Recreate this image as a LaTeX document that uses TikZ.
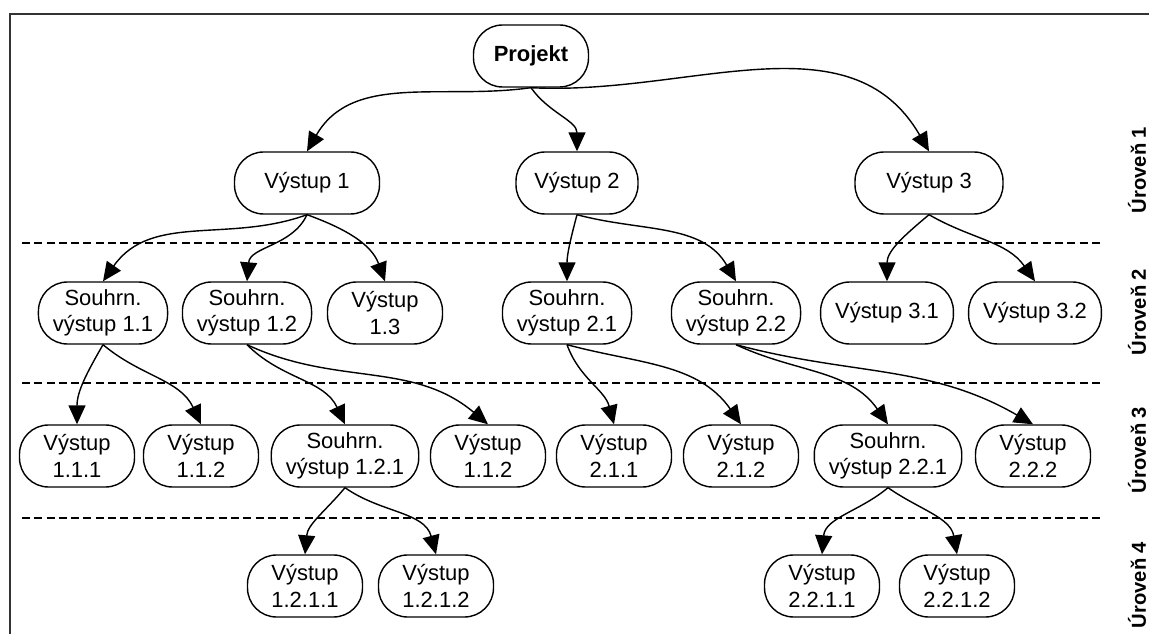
\documentclass[tikz,border=0pt]{standalone}
\usepackage{fontspec}
\setmainfont{Liberation Sans}
\usetikzlibrary{arrows.meta}

\begin{document}
\begin{tikzpicture}[x=0.02cm, y=0.02cm,
    box/.style={draw, line width=0.8pt, rounded corners=0.58cm, minimum width=2.3cm,
        minimum height=1.24cm, inner xsep=0.29cm, align=center,
        font=\fontsize{12.5}{15}\selectfont},
    boldbox/.style={box, font=\fontsize{12.5}{15}\selectfont\bfseries},
    levelname/.style={rotate=90, font=\fontsize{11.5}{13}\selectfont\bfseries},
    arr/.style={line width=0.8pt, -{Triangle[length=0.38cm, width=0.34cm]}},
    sep/.style={dash pattern=on 4.5pt off 2.5pt, line width=0.6pt}]
    \useasboundingbox (0,0) rectangle (1149,-634);

    \draw[line width=1.3pt, black!80] (1149,-14) -- (10,-14) -- (10,-634);

    \draw[sep] (22,-243) -- (1100,-243);
    \draw[sep] (22,-383) -- (1100,-383);
    \draw[sep] (22,-518) -- (1100,-518);

    \node[levelname] (u1) at (1137,-170) {Úroveň 1};
    \node[levelname] (u2) at (1137,-312) {Úroveň 2};
    \node[levelname] (u3) at (1137,-450) {Úroveň 3};
    \node[levelname] (u4) at (1137,-585) {Úroveň 4};

    \node[boldbox] (p) at (531,-56) {Projekt};

    \node[box, minimum width=2.9cm] (v1) at (307,-183) {Výstup 1};
    \node[box, minimum width=2.44cm] (v2) at (577,-183) {Výstup 2};
    \node[box, minimum width=2.96cm] (v3) at (929,-183) {Výstup 3};

    \node[box] (v11) at (103,-313) {Souhrn.\\výstup 1.1};
    \node[box] (v12) at (247,-313) {Souhrn.\\výstup 1.2};
    \node[box] (v13) at (385,-313) {Výstup\\1.3};
    \node[box] (v21) at (567,-313) {Souhrn.\\výstup 2.1};
    \node[box] (v22) at (736,-313) {Souhrn.\\výstup 2.2};
    \node[box] (v31) at (887,-313) {Výstup 3.1};
    \node[box] (v32) at (1035,-313) {Výstup 3.2};

    \node[box] (v111) at (77,-456) {Výstup\\1.1.1};
    \node[box] (v112) at (201,-456) {Výstup\\1.1.2};
    \node[box] (v121) at (345,-456) {Souhrn.\\výstup 1.2.1};
    \node[box] (v1x) at (488,-456) {Výstup\\1.1.2};
    \node[box] (v211) at (614,-456) {Výstup\\2.1.1};
    \node[box] (v212) at (741,-456) {Výstup\\2.1.2};
    \node[box] (v221) at (888,-456) {Souhrn.\\výstup 2.2.1};
    \node[box] (v222) at (1033,-456) {Výstup\\2.2.2};

    \node[box] (v1211) at (305,-586) {Výstup\\1.2.1.1};
    \node[box] (v1212) at (436,-586) {Výstup\\1.2.1.2};
    \node[box] (v2211) at (822,-586) {Výstup\\2.2.1.1};
    \node[box] (v2212) at (957,-586) {Výstup\\2.2.1.2};

    \draw[arr] (p.south) to[out=188, in=60] (v1.north);
    \draw[arr] (p.south) to[out=-55, in=90] (v2.north);
    \draw[arr] (p.south) to[out=-3, in=120] (v3.north);

    \draw[arr] (v1.south) to[out=200, in=55] (v11.north);
    \draw[arr] (v1.south) to[out=-115, in=85] (v12.north);
    \draw[arr] (v1.south) to[out=-20, in=110] (v13.north);
    \draw[arr] (v2.south) to[out=-105, in=90] (v21.north);
    \draw[arr] (v2.south) to[out=-15, in=120] (v22.north);
    \draw[arr] (v3.south) to[out=-140, in=90] (v31.north);
    \draw[arr] (v3.south) to[out=-30, in=125] (v32.north);

    \draw[arr] (v11.south) to[out=-120, in=90] (v111.north);
    \draw[arr] (v11.south) to[out=-40, in=115] (v112.north);
    \draw[arr] (v12.south) to[out=-45, in=115] (v121.north);
    \draw[arr] (v12.south) to[out=-25, in=140] (v1x.north);
    \draw[arr] (v21.south) to[out=-70, in=105] (v211.north);
    \draw[arr] (v21.south) to[out=-15, in=125] (v212.north);
    \draw[arr] (v22.south) to[out=-25, in=125] (v221.north);
    \draw[arr] (v22.south) to[out=-15, in=150] (v222.north);

    \draw[arr] (v121.south) to[out=-130, in=85] (v1211.north);
    \draw[arr] (v121.south) to[out=-35, in=105] (v1212.north);
    \draw[arr] (v221.south) to[out=-140, in=85] (v2211.north);
    \draw[arr] (v221.south) to[out=-35, in=100] (v2212.north);
\end{tikzpicture}
\end{document}
